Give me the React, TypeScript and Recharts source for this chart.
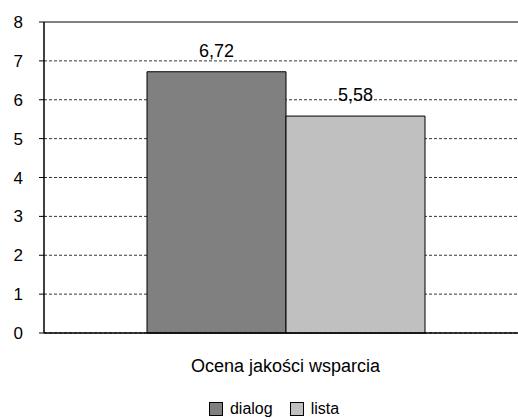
import { BarChart, Bar, XAxis, YAxis, CartesianGrid, Legend, LabelList, ReferenceLine } from 'recharts';

const categories = ['Ocena jakości wsparcia'];
const dialog = [6.72];
const lista = [5.58];
const yTicks = [0, 1, 2, 3, 4, 5, 6, 7, 8];

const data = categories.map((name, i) => ({ name, dialog: dialog[i], lista: lista[i] }));

const font = 'Liberation Sans, Arial, sans-serif';
const fmt = (v: any) => String(v).replace('.', ',');

function LegendBox() {
  const items = [
    { label: 'dialog', fill: '#808080' },
    { label: 'lista', fill: '#c0c0c0' },
  ];
  return (
    <div style={{ display: 'flex', justifyContent: 'center', gap: 17, paddingTop: 15, paddingLeft: 21, fontFamily: font, fontSize: 16, lineHeight: '18px', color: '#000' }}>
      {items.map(it => (
        <div key={it.label} style={{ display: 'flex', alignItems: 'center', gap: 7 }}>
          <span style={{ width: 12, height: 12, background: it.fill, border: '1px solid #000', display: 'inline-block' }} />
          <span>{it.label}</span>
        </div>
      ))}
    </div>
  );
}

export default function App() {
  return (
    <div style={{ position: 'absolute', left: 0, top: 0, width: 518, height: 419, overflow: 'hidden', background: '#fff' }}>
      <BarChart width={527} height={419} data={data} margin={{ top: 22, right: 0, bottom: 0, left: 0 }}
        barCategoryGap={103} barGap={0}>
        <CartesianGrid vertical={false} stroke="#000" strokeDasharray="3 2" strokeWidth={0.8} />
        <ReferenceLine y={8} stroke="#808080" strokeWidth={2} />
        <XAxis dataKey="name" height={52} tickLine={false} axisLine={{ stroke: '#000', strokeWidth: 1.5 }}
          tick={{ fill: '#000', fontSize: 18, fontFamily: font }} tickMargin={20} />
        <YAxis domain={[0, 8]} ticks={yTicks} width={44} tickSize={5} tickMargin={16}
          axisLine={{ stroke: '#000', strokeWidth: 1.5 }} tickLine={{ stroke: '#000' }}
          tick={{ fill: '#000', fontSize: 17, fontFamily: font }} />
        <Bar dataKey="dialog" fill="#808080" stroke="#000" strokeWidth={1} isAnimationActive={false}>
          <LabelList dataKey="dialog" position="top" offset={15} formatter={fmt}
            style={{ fill: '#000', fontSize: 18, fontFamily: font }} />
        </Bar>
        <Bar dataKey="lista" fill="#c0c0c0" stroke="#000" strokeWidth={1} isAnimationActive={false}>
          <LabelList dataKey="lista" position="top" offset={15} formatter={fmt}
            style={{ fill: '#000', fontSize: 18, fontFamily: font }} />
        </Bar>
        <Legend verticalAlign="bottom" height={34} content={() => <LegendBox />} />
      </BarChart>
    </div>
  );
}
